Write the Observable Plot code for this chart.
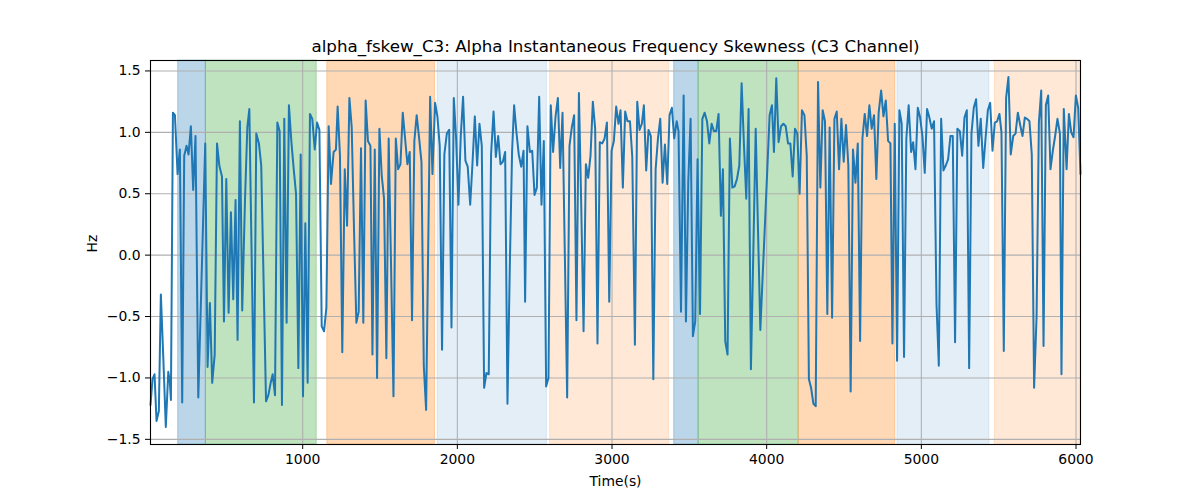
<!DOCTYPE html>
<html>
<head>
<meta charset="utf-8">
<script src="https://cdn.jsdelivr.net/npm/d3@7"></script>
<script src="https://cdn.jsdelivr.net/npm/@observablehq/plot@0.6"></script>
<style>
  body { margin: 0; background: white; }
  #chart svg { display: block; }
</style>
</head>
<body>
<div id="chart"></div>
<script>
// time (s) and skewness values
var times = [
  16, 29, 42, 55, 70, 83, 98, 115, 131, 141, 148, 161, 174, 191, 206, 221, 234, 249, 262, 277,
  292, 307, 325, 370, 385, 400, 415, 431, 446, 461, 478, 491, 506, 521, 536, 551, 566, 579, 594,
  609, 627, 642, 655, 685, 700, 717, 732, 763, 778, 793, 806, 821, 836, 851, 866, 881, 896, 911,
  927, 942, 957, 972, 987, 1002, 1017, 1032, 1047, 1062, 1078, 1093, 1108, 1123, 1138, 1153, 1168,
  1183, 1200,
  1215, 1226, 1241, 1256, 1272, 1287, 1302, 1317, 1332, 1347, 1362, 1377, 1392, 1407, 1422, 1438,
  1451, 1466, 1481, 1496, 1511, 1526, 1541, 1556, 1587, 1602, 1617, 1632, 1647, 1662, 1677, 1692,
  1707, 1722, 1737, 1753, 1768, 1783, 1798,
  1824, 1839, 1856, 1871, 1886, 1901, 1916, 1932, 1947, 1962, 1977, 1992, 2007, 2022, 2037, 2052,
  2067, 2083, 2098, 2113, 2128, 2143, 2158, 2173, 2188, 2203, 2218, 2234, 2249, 2264, 2279, 2294,
  2309, 2324, 2339, 2354, 2367, 2382, 2397, 2413, 2428,
  2438, 2453, 2469, 2484, 2499, 2514, 2529, 2544, 2559, 2574, 2589, 2604, 2619, 2635, 2650, 2665,
  2680, 2695, 2710, 2725, 2740, 2755, 2770, 2786, 2801, 2816, 2831, 2846, 2861, 2876, 2891, 2906,
  2921, 2937, 2952, 2967, 2982, 2997, 3012, 3027, 3042,
  3055, 3070, 3085, 3100, 3116, 3131, 3148, 3163, 3178, 3193, 3206, 3221, 3236, 3251, 3267, 3282,
  3297, 3312, 3327, 3342, 3357, 3372, 3387, 3402, 3418, 3430, 3446, 3463, 3478, 3493, 3508, 3523,
  3538, 3553, 3569, 3584, 3599, 3614, 3629, 3644, 3659,
  3674, 3689, 3704, 3717, 3732, 3747, 3762, 3778, 3793, 3808, 3823, 3838, 3853, 3868, 3883, 3898,
  3914, 3929, 3944, 3959, 3974, 3989, 4004, 4019, 4034, 4047, 4062, 4077, 4093, 4108, 4123, 4138,
  4153, 4168, 4183, 4198, 4213, 4228, 4244, 4259, 4273,
  4287, 4302, 4317, 4332, 4347, 4362, 4377, 4392, 4407, 4423, 4438, 4453, 4468, 4483, 4498, 4513,
  4528, 4543, 4558, 4574, 4589, 4604, 4619, 4634, 4649, 4664, 4679, 4694, 4709, 4724, 4740, 4755,
  4770, 4785, 4800, 4813, 4828, 4843, 4858, 4873, 4888,
  4903, 4918, 4934, 4947, 4962, 4977, 4992, 5007, 5022, 5037, 5052, 5067, 5082, 5098, 5113, 5128,
  5143, 5158, 5173, 5188, 5203, 5218, 5233, 5249, 5264, 5279, 5294, 5309, 5324, 5339, 5354, 5369,
  5384, 5400, 5415, 5430, 5445, 5460, 5475, 5490, 5505,
  5518, 5533, 5548, 5563, 5578, 5594, 5609, 5624, 5639, 5654, 5669, 5684, 5699, 5714, 5729, 5745,
  5760, 5775, 5790, 5805, 5820, 5835, 5850, 5865, 5880, 5896, 5906, 5921, 5939, 5954, 5969, 5984,
  5999, 6014, 6029
];
var values = [
  -1.22, -1.01, -0.97, -1.35, -1.27, -0.32, -0.81, -1.40, -0.95, -1.03, -1.18, 1.16, 1.14, 0.66, 0.86, -1.20, 0.81, 0.89, 0.82, 1.05,
  0.53, 0.97, -1.16, 0.91, -0.91, -0.39, -1.04, -0.81, 0.91, 0.73, 0.64, -0.54, 0.62, -0.47, 0.35, -0.36, 0.45, -0.69, 1.09,
  -0.45, 0.45, 1.04, 1.19, -1.20, 0.99, 0.91, 0.73, -1.19, -1.14, -1.04, -0.97, -1.14, 1.08, 1.01, -1.22, 1.11, -0.55, 1.22,
  0.92, 0.70, 0.50, -0.92, 0.82, -1.15, 0.26, -1.04, 1.15, 1.11, 0.86, 1.08, 1.02, -0.58, -0.62, -0.43, 1.05,
  0.58, 0.84,
  0.86, 1.21, 0.81, -0.79, 0.70, 0.24, 1.28, 1.04, 0.20, -0.55, -0.46, 0.87, -0.55, 1.26, 0.93, 0.89,
  -0.81, 0.86, -1.00, 1.03, 0.65, 0.46, -0.84, 0.95, -1.15, 0.95, 0.70, 0.74, 1.16, 0.95, 0.74, 0.84,
  -0.53, 0.93, 1.14, 0.95, 0.76, -0.90, -1.26,
  1.29, 0.66, 1.24, 1.13, 0.89, -0.77, 0.82, 0.99, 1.02, -0.59, 1.28, 0.95, 0.41, 0.97, 1.29, 0.77,
  0.72, 0.41, 0.75, 1.13, 0.73, 1.07, 0.89, -1.08, -0.96, -0.97, 0.82, 1.17, 0.80, 0.97, 0.74, 0.76,
  0.84, -1.21, -0.10, 0.85, 1.22, 1.00, 0.82, 0.72, 0.85,
  -0.38, 1.05, 0.84, 0.85, 0.49, 0.55, 1.29, 0.41, 0.93, -1.07, -1.00, 1.22, 0.84, 1.13, 1.28, 0.71,
  1.16, 0.00, -1.16, 0.89, 1.04, 1.14, -0.53, 1.32, 0.40, -0.62, 0.74, 0.63, 0.81, 1.25, 1.03, -0.72,
  0.92, 0.91, 0.95, 1.08, -0.38, 0.85, 0.93, 1.21, 1.07,
  1.18, 0.55, 1.17, 1.09, 1.09, 0.80, -0.73, 1.25, 1.02, 1.07, 1.22, 0.69, 1.02, 0.97, -1.01, 0.70,
  0.95, 1.11, 0.59, 0.90, 0.58, 1.14, 1.20, 0.95, 1.09, 1.01, -0.46, 1.30, -0.54, 0.60, 1.11, -0.66,
  -0.54, 0.78, -0.48, 1.11, 1.16, 1.09, 0.91, 1.07, 1.01,
  1.01, 1.15, 0.32, 0.70, -0.70, -0.81, 0.95, 0.55, 0.56, 0.62, 0.73, 1.40, 0.90, 0.46, 1.19, -0.93,
  0.05, 1.03, 0.20, -0.61, -0.17, 0.26, 0.70, 1.14, 1.22, 0.84, 1.44, 0.92, 1.05, 1.07, 1.05, 0.91,
  0.91, 0.64, 1.03, 0.99, 0.50, 1.18, 1.14, 0.81, -1.01,
  -1.08, -1.21, -1.23, 1.41, 0.55, 1.18, 1.09, -0.48, 1.04, -0.51, 1.11, 1.17, 0.70, 1.11, 0.76, 1.06,
  0.73, -1.11, 0.86, 0.59, 0.91, -0.70, 0.95, 1.15, 0.97, 1.22, 1.03, 1.14, 0.62, 1.16, 1.34, 1.13,
  1.26, 0.93, 0.91, -0.72, 1.07, -0.86, 1.18, 1.07, -0.83,
  0.95, 1.22, 0.84, 0.92, 0.70, 1.20, 1.12, 0.97, 0.67, 1.19, 1.12, 1.03, 1.09, -0.40, -0.90, 1.11,
  0.69, 0.73, 0.78, 0.97, 0.97, -0.71, 1.03, 1.01, 0.81, 1.12, 1.18, -0.92, 0.99, 1.20, 1.27, 0.89,
  1.11, 0.71, 0.95, 1.18, 1.24, 0.85, 1.08, 1.09, 1.15,
  1.00, -0.78, 1.28, 1.45, 0.82, 0.97, 0.99, 1.16, 1.06, 0.97, 1.12, 1.11, 1.09, 0.82, -1.08, -0.50,
  1.08, 1.34, -0.74, 1.22, 1.30, 0.70, 0.85, 0.97, 1.11, 0.99, -0.97, 1.19, 0.70, 1.15, 1.00, 0.96,
  1.30, 1.20, 0.66
];

// shaded intervals (s) and their group
var bandStart = [195, 374, 1159, 1873, 2600, 3402, 3560, 4207, 4845, 5475];
var bandEnd   = [374, 1091, 1856, 2579, 3370, 3560, 4207, 4832, 5440, 6029];
var bandKind  = ["a", "b", "c", "d", "e", "a", "b", "c", "d", "e"];

var xTicks = [1000, 2000, 3000, 4000, 5000, 6000];
var yTicks = [-1.5, -1.0, -0.5, 0.0, 0.5, 1.0, 1.5];

var bandStyle = {
  a: { fill: "#1f77b4", op: 0.3 },
  b: { fill: "#2ca02c", op: 0.3 },
  c: { fill: "#ff7f0e", op: 0.3 },
  d: { fill: "#1f77b4", op: 0.12 },
  e: { fill: "#ff7f0e", op: 0.17 }
};

var data = times.map((t, i) => ({ t: t, v: values[i] }));
var bands = bandStart.map((s, i) => ({ start: s, end: bandEnd[i], kind: bandKind[i] }));

var bandMarks = Object.keys(bandStyle).map(function (k) {
  var s = bandStyle[k];
  return Plot.rect(bands.filter(b => b.kind === k), {
    x1: "start", x2: "end",
    fill: s.fill, fillOpacity: s.op,
    stroke: s.fill, strokeOpacity: s.op, strokeWidth: 1
  });
});

var options = {
  width: 1200,
  height: 500,
  marginLeft: 150,
  marginRight: 120,
  marginTop: 60,
  marginBottom: 56,
  style: {
    background: "white",
    fontFamily: "DejaVu Sans",
    fontSize: "13.9px",
    color: "black"
  },
  x: { domain: [16, 6029] },
  y: { domain: [-1.542, 1.585] },
  marks: [
    ...bandMarks,
    Plot.gridX(xTicks, { stroke: "#b0b0b0", strokeOpacity: 1, strokeWidth: 1.1 }),
    Plot.gridY(yTicks, { stroke: "#b0b0b0", strokeOpacity: 1, strokeWidth: 1.1 }),
    Plot.line(data, { x: "t", y: "v", stroke: "#1f77b4", strokeWidth: 2 }),
    Plot.frame({ stroke: "black", strokeWidth: 1.1 }),
    Plot.axisX({ ticks: xTicks, tickSize: 5, tickPadding: 5, tickFormat: d3.format("d"), label: null, fontSize: 13.9 }),
    Plot.axisY({ ticks: yTicks, tickSize: 5, tickPadding: 5, tickFormat: d3.format(".1f"), label: null, fontSize: 13.9 }),
    Plot.text(["alpha_fskew_C3: Alpha Instantaneous Frequency Skewness (C3 Channel)"], {
      frameAnchor: "top", dy: -14, lineAnchor: "middle", fontSize: 16.7, fill: "black"
    }),
    Plot.text(["Time(s)"], { frameAnchor: "bottom", dy: 37, lineAnchor: "middle", fontSize: 13.9, fill: "black" }),
    Plot.text(["Hz"], { frameAnchor: "left", dx: -58, rotate: -90, lineAnchor: "middle", fontSize: 13.9, fill: "black" })
  ]
};

document.getElementById("chart").append(Plot.plot(options));
</script>
</body>
</html>
